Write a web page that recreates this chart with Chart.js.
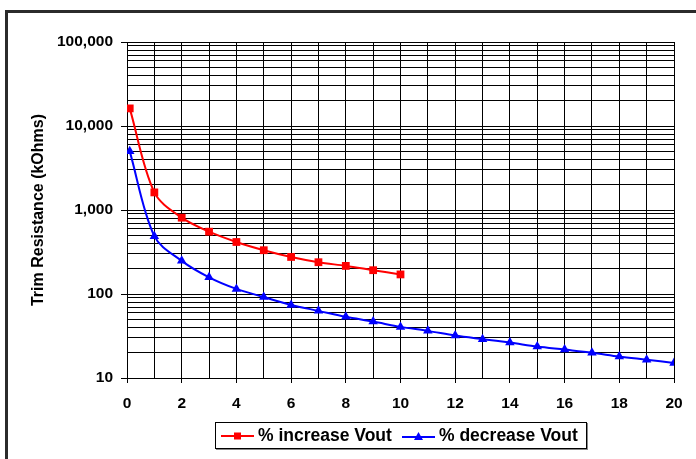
<!DOCTYPE html>
<html>
<head>
<meta charset="utf-8">
<script src="https://cdn.jsdelivr.net/npm/chart.js@4"></script>
<style>
  html, body { margin: 0; padding: 0; background: #fff; }
  #wrap { position: relative; width: 696px; height: 459px; overflow: hidden; background: #fff; }
  #frame { position: absolute; left: 5px; top: 10px; width: 800px; height: 600px;
           border-top: 3px solid #2b2b2b; border-left: 3px solid #2b2b2b; box-sizing: border-box; }
  canvas { position: absolute; left: 0; top: 0; }
  #legend { position: absolute; left: 215px; top: 422px; width: 372px; height: 27px;
            box-sizing: border-box; border: 1px solid #000; box-shadow: 1px 1px 0 #888; background: #fff;
            font: bold 17.5px "Liberation Sans", Arial, sans-serif; color: #000; }
  .item { position: absolute; top: 0; height: 25px; display: flex; align-items: center; white-space: nowrap; }
  .item svg { display: block; margin-right: 4px; }
</style>
</head>
<body>
<div id="wrap">
  <div id="frame"></div>
  <canvas id="c" width="696" height="459"></canvas>
  <div id="legend">
    <div class="item" style="left:5px;">
      <svg width="33" height="10" viewBox="0 0 33 10"><line x1="0" y1="5" x2="33" y2="5" stroke="#ff0000" stroke-width="2"/><rect x="13" y="1.5" width="7" height="7" fill="#ff0000"/></svg>
      <span>% increase Vout</span>
    </div>
    <div class="item" style="left:186px;">
      <svg width="33" height="10" viewBox="0 0 33 10"><line x1="0" y1="6" x2="33" y2="6" stroke="#0000ff" stroke-width="2"/><polygon points="16.5,1 21,9 12,9" fill="#0000ff"/></svg>
      <span>% decrease Vout</span>
    </div>
  </div>
</div>
<script>
// ---- data ----
const increaseX = [0.1, 1, 2, 3, 4, 5, 6, 7, 8, 9, 10];
const increaseValues = [16200, 1620, 810, 552, 416, 332, 276, 239, 216, 192, 171];

const decreaseX = [0.1, 1, 2, 3, 4, 5, 6, 7, 8, 9, 10, 11, 12, 13, 14, 15, 16, 17, 18, 19, 20];
const decreaseValues = [4990, 488, 248, 158, 115, 92, 74, 63, 53.5, 47, 40.6, 36.4, 32, 29, 26.4, 23.7, 21.8, 20, 18, 16.5, 15.1];

const seriesNames = ['% increase Vout', '% decrease Vout'];
const yTitle = 'Trim Resistance (kOhms)';

const xLabelValues = [0, 2, 4, 6, 8, 10, 12, 14, 16, 18, 20];
const yLabelValues = [10, 100, 1000, 10000, 100000];
const yGridValues = [
  10, 20, 30, 40, 50, 60, 70, 80, 90,
  100, 200, 300, 400, 500, 600, 700, 800, 900,
  1000, 2000, 3000, 4000, 5000, 6000, 7000, 8000, 9000,
  10000, 20000, 30000, 40000, 50000, 60000, 70000, 80000, 90000,
  100000
];

const toPoints = (xs, ys) => xs.map((x, i) => ({ x: x, y: ys[i] }));

const FONT = '"Liberation Sans", Arial, sans-serif';

new Chart(document.getElementById('c'), {
  type: 'line',
  data: {
    datasets: [
      {
        label: seriesNames[0],
        data: toPoints(increaseX, increaseValues),
        borderColor: '#ff0000',
        backgroundColor: '#ff0000',
        borderWidth: 2,
        pointStyle: 'rect',
        pointRadius: 5.5,
        pointHoverRadius: 5.5,
        pointBorderWidth: 0,
        tension: 0.33,
        fill: false
      },
      {
        label: seriesNames[1],
        data: toPoints(decreaseX, decreaseValues),
        borderColor: '#0000ff',
        backgroundColor: '#0000ff',
        borderWidth: 2,
        pointStyle: 'triangle',
        pointRadius: 5.5,
        pointHoverRadius: 5.5,
        pointBorderWidth: 0,
        tension: 0.33,
        fill: false
      }
    ]
  },
  options: {
    responsive: false,
    animation: false,
    devicePixelRatio: 1,
    layout: { padding: { left: 0, top: 42, right: 22, bottom: 0 } },
    plugins: {
      legend: { display: false },
      tooltip: { enabled: false }
    },
    scales: {
      x: {
        type: 'linear',
        min: 0,
        max: 20,
        afterBuildTicks: (scale) => {
          const t = [];
          for (let i = 0; i <= 20; i++) t.push({ value: i });
          scale.ticks = t;
        },
        afterFit: (scale) => { scale.height = 81; },
        ticks: {
          autoSkip: false,
          maxRotation: 0,
          padding: 11,
          color: '#000',
          font: { family: FONT, size: 15.5, weight: 'bold' },
          callback: (v) => xLabelValues.includes(v) ? String(v) : ''
        },
        grid: {
          color: '#000',
          lineWidth: 1,
          tickLength: 5,
          tickColor: (ctx) => (ctx.tick && xLabelValues.includes(ctx.tick.value)) ? '#000' : 'rgba(0,0,0,0)'
        },
        border: { color: '#000', width: 1 }
      },
      y: {
        type: 'logarithmic',
        min: 10,
        max: 100000,
        afterBuildTicks: (scale) => {
          scale.ticks = yGridValues.map(v => ({ value: v }));
        },
        afterFit: (scale) => { scale.width = 127; },
        ticks: {
          autoSkip: false,
          padding: 8,
          color: '#000',
          font: { family: FONT, size: 15.5, weight: 'bold' },
          callback: (v) => yLabelValues.includes(v) ? Number(v).toLocaleString('en-US') : ''
        },
        grid: {
          color: '#000',
          lineWidth: 1,
          tickLength: 6,
          tickColor: (ctx) => (ctx.tick && yLabelValues.includes(ctx.tick.value)) ? '#000' : 'rgba(0,0,0,0)'
        },
        border: { color: '#000', width: 1 },
        title: {
          display: true,
          text: yTitle,
          color: '#000',
          font: { family: FONT, size: 16, weight: 'bold' },
          padding: { top: 29, bottom: 0 }
        }
      }
    }
  }
});
</script>
</body>
</html>
